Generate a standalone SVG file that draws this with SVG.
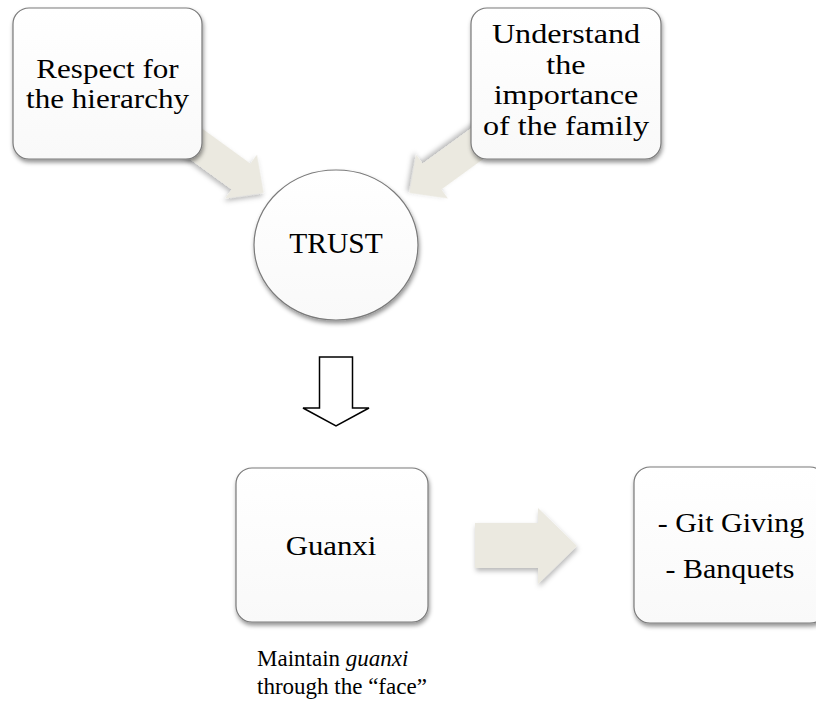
<svg xmlns="http://www.w3.org/2000/svg" width="816" height="706" viewBox="0 0 816 706">
  <defs>
    <linearGradient id="nodeFill" x1="0" y1="0" x2="0" y2="1">
      <stop offset="0" stop-color="#ffffff"/>
      <stop offset="1" stop-color="#f9f9f9"/>
    </linearGradient>
    <filter id="shadow" x="-20%" y="-20%" width="140%" height="140%">
      <feDropShadow dx="1" dy="3" stdDeviation="2.2" flood-color="#000" flood-opacity="0.42"/>
    </filter>
    <filter id="arrowShadow" x="-20%" y="-20%" width="140%" height="140%">
      <feDropShadow dx="1" dy="3" stdDeviation="2.5" flood-color="#000" flood-opacity="0.28"/>
    </filter>
    <style>
      .node { fill: url(#nodeFill); stroke: #7a7a7a; stroke-width: 1.2; filter: url(#shadow); }
      .block { fill: #ebe9e0; filter: url(#arrowShadow); }
      .outline { fill: #ffffff; stroke: #000000; stroke-width: 1.5; stroke-linejoin: miter; }
      text { font-family: "Liberation Serif", "Times New Roman", serif; fill: #000000; }
      .lbl { font-size: 27.5px; text-anchor: middle; }
      .cap { font-size: 23px; }
    </style>
  </defs>

  <!-- connectors -->
  <g id="connectors">
    <!-- hierarchy -> trust -->
    <polygon class="block" transform="translate(241 176.5) rotate(36)" points="-80,-16 0,-16 0,-27 28,0 0,27 0,16 -80,16"/>
    <!-- family -> trust -->
    <polygon class="block" transform="translate(432 176.5) rotate(144)" points="-80,-16 0,-16 0,-27 28,0 0,27 0,16 -80,16"/>
    <!-- trust -> guanxi -->
    <polygon class="outline" points="319.5,357 352.5,357 352.5,408 369,408 336,426 303,408 319.5,408"/>
    <!-- guanxi -> practices -->
    <polygon class="block" points="475,523 538,523 538,508 577,546 538,584 538,568 475,568"/>
  </g>

  <g id="node-hierarchy">
    <rect class="node" x="13" y="8" width="189" height="151" rx="16"/>
    <text class="lbl" transform="translate(107.5 0) scale(1.13 1)" x="0" y="78">Respect for</text>
    <text class="lbl" transform="translate(107.5 0) scale(1.13 1)" x="0" y="108">the hierarchy</text>
  </g>

  <g id="node-family">
    <rect class="node" x="471" y="8" width="190" height="151" rx="16"/>
    <text class="lbl" transform="translate(566 0) scale(1.17 1)" x="0" y="43">Understand</text>
    <text class="lbl" transform="translate(566 0) scale(1.17 1)" x="0" y="74">the</text>
    <text class="lbl" transform="translate(566 0) scale(1.17 1)" x="0" y="104">importance</text>
    <text class="lbl" transform="translate(566 0) scale(1.17 1)" x="0" y="135">of the family</text>
  </g>

  <g id="node-trust">
    <ellipse class="node" cx="336" cy="245" rx="82" ry="75"/>
    <text class="lbl" style="font-size:29.5px" x="336" y="253">TRUST</text>
  </g>

  <g id="node-guanxi">
    <rect class="node" x="236" y="468" width="192" height="154" rx="16"/>
    <text class="lbl" transform="translate(331 0) scale(1.12 1)" x="0" y="555">Guanxi</text>
  </g>

  <g id="node-practices">
    <rect class="node" x="634" y="467" width="192" height="156" rx="16"/>
    <text class="lbl" transform="translate(731 0) scale(1.09 1)" x="0" y="532">- Git Giving</text>
    <text class="lbl" transform="translate(730 0) scale(1.09 1)" x="0" y="578">- Banquets</text>
  </g>

  <g id="caption">
    <text class="cap" x="257" y="666">Maintain <tspan font-style="italic">guanxi</tspan></text>
    <text class="cap" x="257" y="694">through the “face”</text>
  </g>
</svg>
